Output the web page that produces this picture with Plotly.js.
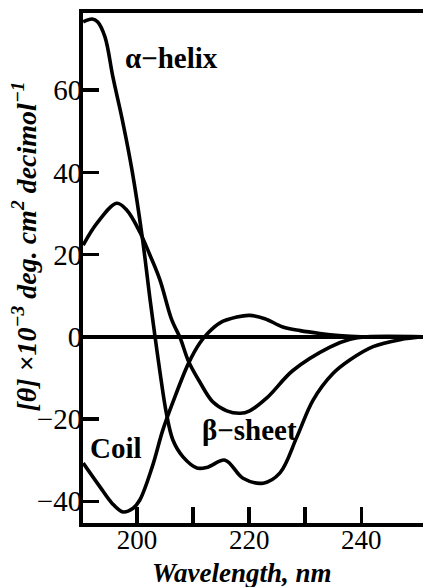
<!DOCTYPE html>
<html>
<head>
<meta charset="utf-8">
<script src="https://cdn.plot.ly/plotly-3.0.1.min.js"></script>
<style>html,body{margin:0;padding:0;background:#fff;}#chart{width:423px;height:587px;}</style>
</head>
<body>
<div id="chart"></div>
<script>
// Wavelength (nm) and mean residue ellipticity [θ] ×10^-3 for each secondary structure
const helixWavelength = [190.4, 192.0, 193.0, 194.3, 195.7, 197.5, 199.1, 200.9, 202.3, 203.2, 204.1, 205.2, 206.4, 208.2, 210.7, 212.6, 215.7, 218.9, 222.5, 225.5, 228.5, 231.4, 234.9, 238.0, 242.1, 246.9, 251.0];
const helixTheta      = [76.6, 77.3, 76.6, 72.9, 63.2, 52.0, 40.6, 24.6, 9.4, 0.2, -8.6, -18.3, -25.1, -29.2, -31.9, -31.7, -30.0, -34.4, -35.6, -33.1, -24.4, -15.4, -9.0, -5.6, -2.4, -0.7, 0];

const sheetWavelength = [190.4, 192.9, 196.4, 198.2, 200.5, 202.3, 204.1, 206.2, 207.7, 209.2, 211.2, 213.5, 216.0, 218.4, 220.1, 223.2, 227.8, 234.4, 238.0, 241.0, 251.0];
const sheetTheta      = [22.3, 27.7, 32.5, 30.8, 25.5, 19.9, 13.8, 4.1, -0.3, -6.0, -11.0, -15.8, -18.0, -18.6, -18.0, -14.8, -8.2, -2.5, -0.6, 0, 0];

const coilWavelength  = [190.4, 193.4, 195.5, 197.5, 199.3, 200.5, 202.7, 204.6, 206.4, 209.2, 211.2, 212.7, 214.8, 217.8, 220.1, 222.8, 226.0, 229.1, 232.6, 236.0, 240.0, 251.0];
const coilTheta       = [-30.7, -36.5, -40.4, -42.6, -41.7, -39.7, -31.7, -22.7, -15.9, -6.4, -1.5, 1.0, 3.4, 4.8, 5.2, 4.4, 2.4, 1.5, 0.8, 0.3, 0, 0];

const xTickVals = [200, 210, 220, 230, 240];
const xTickText = ['200', '', '220', '', '240'];
const yTickVals = [-40, -20, 0, 20, 40, 60];
const yTickText = ['\u221240', '\u221220', '0', '20', '40', '60'];

const labels = [
  {text: '\u03b1\u2212helix', x: 206.1, y: 67.8},
  {text: 'Coil', x: 196.3, y: -27.1},
  {text: '\u03b2\u2212sheet', x: 220.1, y: -22.7}
];

const serif = 'Liberation Serif';
const lineStyle = {color: '#000', width: 3.6, shape: 'spline', smoothing: 1};

const traces = [
  {x: helixWavelength, y: helixTheta, name: 'α-helix', mode: 'lines', line: lineStyle},
  {x: sheetWavelength, y: sheetTheta, name: 'β-sheet', mode: 'lines', line: lineStyle},
  {x: coilWavelength, y: coilTheta, name: 'Coil', mode: 'lines', line: lineStyle}
];

const annotations = labels.map(l => ({
  text: l.text, x: l.x, y: l.y, xref: 'x', yref: 'y', showarrow: false,
  font: {family: serif, size: 29, color: '#000', weight: 'bold'}
}));
annotations.push({
  text: 'Wavelength, nm', xref: 'paper', yref: 'paper', x: 0.4676, y: -0.098,
  xanchor: 'center', yanchor: 'middle', showarrow: false,
  font: {family: serif, size: 27, color: '#000', weight: 'bold', style: 'italic'}
});
annotations.push({
  text: '[\u03b8] \u00d710<sup>\u22123</sup> deg. cm<sup>2</sup> decimol<sup>\u22121</sup>',
  xref: 'paper', yref: 'paper', x: -0.1706, y: 0.542, textangle: -90,
  xanchor: 'center', yanchor: 'middle', showarrow: false,
  font: {family: serif, size: 28, color: '#000', weight: 'bold', style: 'italic'}
});

const layout = {
  width: 423, height: 587,
  margin: {l: 83, r: 0, t: 13, b: 64, pad: 0},
  paper_bgcolor: '#fff', plot_bgcolor: '#fff',
  showlegend: false,
  xaxis: {
    range: [190.37, 251.0], showgrid: false, zeroline: false,
    showline: true, linecolor: '#000', linewidth: 4, mirror: true,
    ticks: 'inside', ticklen: 16, tickwidth: 3.5, tickcolor: '#000',
    tickvals: xTickVals, ticktext: xTickText, ticklabelstandoff: -10,
    tickfont: {family: serif, size: 27, color: '#000'}
  },
  yaxis: {
    range: [-45.29, 78.76], showgrid: false,
    zeroline: true, zerolinecolor: '#000', zerolinewidth: 3.5,
    showline: true, linecolor: '#000', linewidth: 4, mirror: false,
    ticks: 'inside', ticklen: 16, tickwidth: 3.5, tickcolor: '#000',
    tickvals: yTickVals, ticktext: yTickText, ticklabelstandoff: -9,
    tickfont: {family: serif, size: 29, color: '#000'}
  },
  annotations: annotations
};

Plotly.newPlot('chart', traces, layout, {staticPlot: true, displayModeBar: false});
</script>
</body>
</html>
